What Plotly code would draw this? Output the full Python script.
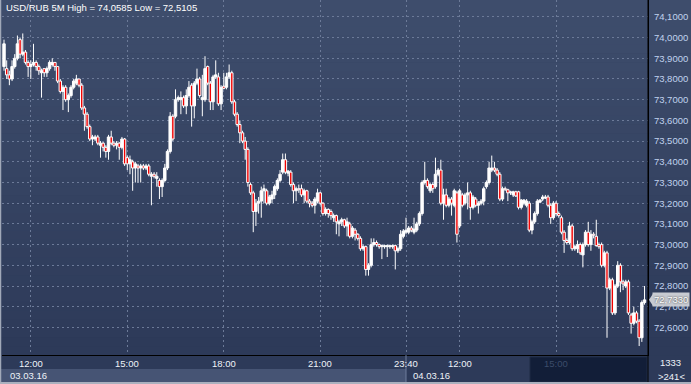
import plotly.graph_objects as go

# ---------------- data ----------------
opens = [73.86, 73.85, 73.82, 73.80, 73.86, 73.90, 73.99, 73.92, 73.93, 73.88,
         73.86, 73.87, 73.88, 73.86, 73.83, 73.85, 73.83, 73.85, 73.87, 73.88,
         73.86, 73.79, 73.74, 73.76, 73.70, 73.72, 73.76, 73.78, 73.80, 73.77,
         73.66, 73.63, 73.57, 73.51, 73.51, 73.52, 73.48, 73.49, 73.47, 73.45,
         73.52, 73.49, 73.48, 73.49, 73.47, 73.51, 73.42, 73.39, 73.40, 73.37,
         73.38, 73.37, 73.38, 73.37, 73.38, 73.33, 73.34, 73.32, 73.31, 73.28,
         73.31, 73.37, 73.45, 73.62, 73.62, 73.70, 73.70, 73.71, 73.67, 73.72,
         73.77, 73.67, 73.78, 73.80, 73.70, 73.70, 73.86, 73.78, 73.69, 73.81,
         73.81, 73.68, 73.765, 73.76, 73.81, 73.83, 73.69, 73.63, 73.58, 73.54,
         73.50, 73.46, 73.29, 73.25, 73.16, 73.20, 73.21, 73.26, 73.26, 73.20,
         73.22, 73.24, 73.27, 73.31, 73.35, 73.41, 73.345, 73.35, 73.29, 73.26,
         73.27, 73.27, 73.24, 73.26, 73.21, 73.20, 73.19, 73.21, 73.25, 73.20,
         73.15, 73.17, 73.16, 73.13, 73.14, 73.10, 73.11, 73.12, 73.09, 73.10,
         73.04, 73.07, 73.05, 73.03, 72.98, 72.99, 72.88, 72.90, 73.00, 73.01,
         73.00, 72.99, 72.99, 72.99, 72.99, 72.99, 72.995, 72.97, 72.98, 73.04,
         73.06, 73.06, 73.08, 73.06, 73.07, 73.10, 73.15, 73.30, 73.31, 73.26,
         73.29, 73.28, 73.34, 73.36, 73.20, 73.24, 73.19, 73.22, 73.19, 73.25,
         73.09, 73.24, 73.20, 73.24, 73.25, 73.18, 73.22, 73.19, 73.20, 73.21,
         73.28, 73.30, 73.36, 73.37, 73.36, 73.34, 73.22, 73.27, 73.265, 73.25,
         73.24, 73.255, 73.255, 73.18, 73.20, 73.19, 73.20, 73.07, 73.11, 73.15,
         73.205, 73.22, 73.225, 73.23, 73.19, 73.13, 73.20, 73.15, 73.13, 73.06,
         73.02, 73.01, 73.09, 72.98, 72.98, 73.00, 72.95, 73.00, 73.06, 73.00,
         73.05, 73.04, 73.00, 73.00, 72.90, 72.96, 72.79, 72.83, 72.67, 72.80,
         72.90, 72.82, 72.80, 72.82, 72.66, 72.62, 72.67, 72.63, 72.55, 72.72]
highs = [73.99, 73.89, 73.84, 73.89, 73.92, 74.01, 74.00, 74.02, 73.94, 73.89,
         73.89, 73.97, 73.89, 73.87, 73.85, 73.85, 73.86, 73.89, 73.90, 73.88,
         73.86, 73.80, 73.77, 73.77, 73.73, 73.77, 73.80, 73.82, 73.80, 73.78,
         73.67, 73.64, 73.58, 73.53, 73.53, 73.53, 73.50, 73.495, 73.48, 73.53,
         73.55, 73.50, 73.50, 73.495, 73.52, 73.515, 73.43, 73.43, 73.41, 73.40,
         73.39, 73.39, 73.39, 73.39, 73.39, 73.35, 73.35, 73.35, 73.32, 73.32,
         73.39, 73.46, 73.64, 73.63, 73.75, 73.72, 73.74, 73.72, 73.75, 73.79,
         73.78, 73.79, 73.85, 73.81, 73.82, 73.91, 73.865, 73.79, 73.82, 73.89,
         73.83, 73.77, 73.83, 73.83, 73.87, 73.84, 73.70, 73.64, 73.60, 73.55,
         73.52, 73.47, 73.30, 73.26, 73.22, 73.23, 73.28, 73.29, 73.27, 73.24,
         73.26, 73.29, 73.32, 73.36, 73.44, 73.44, 73.36, 73.36, 73.30, 73.28,
         73.29, 73.29, 73.27, 73.265, 73.22, 73.21, 73.23, 73.27, 73.255, 73.205,
         73.18, 73.175, 73.17, 73.15, 73.145, 73.12, 73.13, 73.125, 73.13, 73.11,
         73.09, 73.08, 73.055, 73.04, 73.00, 72.995, 72.91, 73.03, 73.03, 73.02,
         73.005, 73.00, 73.00, 73.00, 73.00, 73.00, 73.00, 72.99, 73.07, 73.075,
         73.13, 73.09, 73.09, 73.13, 73.11, 73.16, 73.31, 73.40, 73.32, 73.30,
         73.30, 73.42, 73.37, 73.41, 73.27, 73.27, 73.23, 73.23, 73.27, 73.26,
         73.27, 73.25, 73.25, 73.30, 73.26, 73.24, 73.23, 73.21, 73.22, 73.28,
         73.31, 73.40, 73.43, 73.40, 73.37, 73.35, 73.28, 73.28, 73.27, 73.26,
         73.26, 73.26, 73.26, 73.22, 73.22, 73.22, 73.21, 73.12, 73.16, 73.22,
         73.22, 73.24, 73.24, 73.24, 73.20, 73.21, 73.21, 73.16, 73.14, 73.07,
         73.03, 73.11, 73.10, 73.00, 73.02, 73.01, 73.01, 73.07, 73.11, 73.07,
         73.06, 73.12, 73.01, 73.01, 72.97, 72.97, 72.84, 72.84, 72.81, 72.92,
         72.91, 72.83, 72.83, 72.83, 72.67, 72.70, 72.68, 72.64, 72.73, 72.80]
lows = [73.84, 73.80, 73.77, 73.79, 73.85, 73.89, 73.90, 73.91, 73.87, 73.81,
        73.80, 73.86, 73.84, 73.82, 73.71, 73.81, 73.81, 73.84, 73.86, 73.84,
        73.78, 73.73, 73.65, 73.69, 73.64, 73.71, 73.75, 73.77, 73.76, 73.65,
        73.55, 73.56, 73.50, 73.48, 73.50, 73.48, 73.42, 73.45, 73.42, 73.41,
        73.48, 73.47, 73.46, 73.41, 73.46, 73.38, 73.36, 73.34, 73.26, 73.30,
        73.30, 73.30, 73.36, 73.36, 73.33, 73.19, 73.32, 73.28, 73.22, 73.23,
        73.30, 73.36, 73.44, 73.50, 73.61, 73.69, 73.63, 73.66, 73.63, 73.71,
        73.57, 73.61, 73.77, 73.71, 73.62, 73.69, 73.77, 73.65, 73.65, 73.80,
        73.67, 73.65, 73.75, 73.75, 73.80, 73.68, 73.62, 73.57, 73.49, 73.49,
        73.41, 73.28, 73.24, 73.06, 73.09, 73.15, 73.13, 73.20, 73.19, 73.19,
        73.20, 73.22, 73.26, 73.30, 73.34, 73.34, 73.33, 73.28, 73.20, 73.21,
        73.25, 73.23, 73.20, 73.20, 73.18, 73.18, 73.15, 73.20, 73.19, 73.14,
        73.14, 73.13, 73.12, 73.11, 73.05, 73.04, 73.09, 73.08, 73.04, 73.03,
        73.03, 73.02, 73.02, 72.97, 72.97, 72.85, 72.85, 72.89, 72.99, 72.99,
        72.98, 72.93, 72.98, 72.94, 72.98, 72.98, 72.88, 72.96, 72.97, 73.03,
        73.05, 73.05, 73.06, 73.05, 73.06, 73.09, 73.14, 73.29, 73.27, 73.25,
        73.25, 73.27, 73.33, 73.19, 73.12, 73.18, 73.18, 73.14, 73.18, 73.01,
        73.08, 73.18, 73.19, 73.17, 73.12, 73.17, 73.18, 73.15, 73.19, 73.19,
        73.27, 73.29, 73.35, 73.35, 73.33, 73.21, 73.21, 73.26, 73.21, 73.24,
        73.23, 73.23, 73.17, 73.17, 73.19, 73.18, 73.06, 73.05, 73.10, 73.14,
        73.20, 73.21, 73.22, 73.18, 73.10, 73.12, 73.14, 73.13, 73.05, 72.96,
        73.00, 73.00, 72.97, 72.97, 72.96, 72.95, 72.89, 72.99, 72.99, 72.97,
        73.03, 72.99, 72.98, 72.89, 72.89, 72.55, 72.78, 72.66, 72.66, 72.79,
        72.77, 72.78, 72.79, 72.66, 72.57, 72.61, 72.62, 72.51, 72.53, 72.71]
closes = [73.97, 73.82, 73.80, 73.86, 73.90, 73.97, 73.92, 73.93, 73.88, 73.86,
          73.87, 73.88, 73.86, 73.84, 73.84, 73.83, 73.85, 73.88, 73.88, 73.86,
          73.79, 73.74, 73.76, 73.70, 73.72, 73.76, 73.79, 73.80, 73.77, 73.66,
          73.63, 73.57, 73.51, 73.52, 73.52, 73.49, 73.49, 73.47, 73.45, 73.52,
          73.49, 73.48, 73.49, 73.47, 73.51, 73.39, 73.39, 73.41, 73.37, 73.39,
          73.37, 73.38, 73.37, 73.38, 73.34, 73.34, 73.33, 73.33, 73.28, 73.31,
          73.37, 73.45, 73.62, 73.51, 73.70, 73.71, 73.71, 73.67, 73.72, 73.76,
          73.67, 73.78, 73.80, 73.72, 73.71, 73.85, 73.78, 73.69, 73.81, 73.82,
          73.68, 73.76, 73.755, 73.81, 73.83, 73.69, 73.63, 73.58, 73.54, 73.50,
          73.46, 73.30, 73.25, 73.16, 73.20, 73.21, 73.26, 73.27, 73.20, 73.23,
          73.24, 73.28, 73.31, 73.34, 73.41, 73.35, 73.355, 73.29, 73.26, 73.27,
          73.265, 73.24, 73.26, 73.21, 73.20, 73.19, 73.22, 73.25, 73.20, 73.15,
          73.17, 73.15, 73.14, 73.14, 73.11, 73.11, 73.12, 73.09, 73.11, 73.04,
          73.08, 73.05, 73.03, 72.98, 72.99, 72.88, 72.90, 73.00, 73.01, 73.00,
          72.99, 72.995, 72.995, 72.995, 72.995, 72.995, 72.97, 72.98, 73.05, 73.065,
          73.07, 73.08, 73.07, 73.075, 73.10, 73.15, 73.30, 73.31, 73.28, 73.29,
          73.27, 73.34, 73.36, 73.20, 73.24, 73.19, 73.22, 73.20, 73.26, 73.05,
          73.26, 73.19, 73.24, 73.25, 73.18, 73.23, 73.19, 73.20, 73.21, 73.27,
          73.30, 73.37, 73.37, 73.36, 73.34, 73.22, 73.27, 73.265, 73.25, 73.255,
          73.255, 73.235, 73.18, 73.215, 73.215, 73.21, 73.07, 73.11, 73.15, 73.21,
          73.215, 73.23, 73.23, 73.19, 73.13, 73.20, 73.15, 73.14, 73.06, 73.02,
          73.01, 73.09, 72.98, 72.99, 73.00, 72.96, 73.00, 73.06, 73.00, 73.05,
          73.045, 72.995, 72.99, 72.90, 72.96, 72.79, 72.83, 72.67, 72.80, 72.90,
          72.82, 72.81, 72.82, 72.67, 72.62, 72.67, 72.63, 72.55, 72.72, 72.733]
bars = list(range(len(closes)))

time_tick_bars = [10, 46, 82, 118, 150, 170, 206]
time_tick_labels = ["12:00", "15:00", "18:00", "21:00", "23:40", "12:00", "15:00"]
date_labels = ["03.03.16", "04.03.16"]
day_break_bar = 150
price_ticks = [72.6, 72.7, 72.8, 72.9, 73.0, 73.1, 73.2, 73.3, 73.4, 73.5,
               73.6, 73.7, 73.8, 73.9, 74.0, 74.1]
title_text = "USD/RUB 5M High = 74,0585 Low = 72,5105"
last_price = 72.733
total_bars_text = "1333"
visible_bars_text = "&gt;241&lt;"

# ---------------- layout geometry ----------------
W, H = 691, 384
ML, MR, MT, MB = 2, 43, 0, 29
PW, PH = W - ML - MR, H - MT - MB
X_RANGE = [-0.75, 240.3]
Y_RANGE = [72.4667, 74.1816]
BODY_W = 0.9


def px_x(px):
    return (px - ML) / PW


def px_y(py):
    return (H - MB - py) / PH


def bar_to_paper(b):
    return (b - X_RANGE[0]) / (X_RANGE[1] - X_RANGE[0])


FONT = "Liberation Sans, Arial, sans-serif"

# wick segments (above and below each body, so they never cross the body fill)
wx, wy = [], []
for i, o, h, l, c in zip(bars, opens, highs, lows, closes):
    top, bot = max(o, c), min(o, c)
    if h > top:
        wx += [i, i, None]
        wy += [h, top, None]
    if l < bot:
        wx += [i, i, None]
        wy += [bot, l, None]

up_x, up_base, up_h = [], [], []
dn_x, dn_base, dn_h = [], [], []
for i, o, c in zip(bars, opens, closes):
    if c >= o:
        up_x.append(i); up_base.append(o); up_h.append(c - o)
    else:
        dn_x.append(i); dn_base.append(c); dn_h.append(o - c)

fig = go.Figure()
fig.add_trace(go.Scatter(x=wx, y=wy, mode="lines", line=dict(color="#ffffff", width=1),
                         hoverinfo="skip", showlegend=False))
fig.add_trace(go.Bar(x=up_x, y=up_h, base=up_base, width=BODY_W,
                     marker=dict(color="#ffffff", line=dict(color="#ffffff", width=1)),
                     hoverinfo="skip", showlegend=False))
fig.add_trace(go.Bar(x=dn_x, y=dn_h, base=dn_base, width=BODY_W,
                     marker=dict(color="#f00000", line=dict(color="#ffffff", width=1)),
                     hoverinfo="skip", showlegend=False))

shapes = []
# vertical gradient background behind plot + right axis
top_c = (62, 77, 108)
bot_c = (45, 58, 89)
n = 40
for k in range(n):
    t = k / (n - 1)
    c = tuple(round(top_c[j] + (bot_c[j] - top_c[j]) * t) for j in range(3))
    y0 = k * PH / n
    y1 = (k + 1) * PH / n + 0.5
    shapes.append(dict(type="rect", xref="paper", yref="paper", layer="below",
                       x0=px_x(0), x1=px_x(W), y0=px_y(y1), y1=px_y(y0),
                       fillcolor="rgb(%d,%d,%d)" % c, line=dict(width=0)))

# date band (day 1)
shapes.append(dict(type="rect", xref="paper", yref="paper", layer="above",
                   x0=px_x(0), x1=bar_to_paper(day_break_bar), y0=px_y(382), y1=px_y(369),
                   fillcolor="rgb(70,84,116)", line=dict(width=0)))
# dark highlight box at bottom right
shapes.append(dict(type="rect", xref="paper", yref="paper", layer="above",
                   x0=px_x(530), x1=px_x(647), y0=px_y(382), y1=px_y(357),
                   fillcolor="rgb(18,30,56)", line=dict(color="rgb(30,42,68)", width=1)))
# day separator in the bottom area
shapes.append(dict(type="line", xref="paper", yref="paper", layer="above",
                   x0=bar_to_paper(day_break_bar), x1=bar_to_paper(day_break_bar),
                   y0=px_y(382), y1=px_y(355),
                   line=dict(color="rgb(110,124,156)", width=1)))
# right axis separator extending down
shapes.append(dict(type="line", xref="paper", yref="paper", layer="above",
                   x0=1, x1=1, y0=px_y(384), y1=1,
                   line=dict(color="#000000", width=1)))
# outer frame (left and bottom)
shapes.append(dict(type="line", xref="paper", yref="paper", layer="above",
                   x0=px_x(0.5), x1=px_x(0.5), y0=px_y(384), y1=px_y(0),
                   line=dict(color="rgb(160,168,184)", width=1.5)))
shapes.append(dict(type="line", xref="paper", yref="paper", layer="above",
                   x0=px_x(0), x1=px_x(W), y0=px_y(383), y1=px_y(383),
                   line=dict(color="rgb(170,176,190)", width=2)))
# current price pointer
shapes.append(dict(type="path", xref="paper", yref="y", layer="above",
                   path="M %f %f L %f %f L %f %f Z" % (
                       px_x(649), last_price, px_x(653), last_price + 0.03,
                       px_x(653), last_price - 0.03),
                   fillcolor="rgb(200,203,210)", line=dict(width=0)))

annotations = []
annotations.append(dict(xref="paper", yref="paper", x=px_x(4), y=px_y(8),
                        xanchor="left", yanchor="middle", showarrow=False,
                        text=title_text, font=dict(family=FONT, size=9.5, color="#ffffff")))
for b, lab in zip(time_tick_bars, time_tick_labels):
    dim = b > 196
    annotations.append(dict(xref="paper", yref="paper", x=bar_to_paper(b), y=px_y(363),
                            xanchor="center", yanchor="middle", showarrow=False, text=lab,
                            font=dict(family=FONT, size=9.5,
                                      color="rgb(60,76,106)" if dim else "#eef2f8")))
annotations.append(dict(xref="paper", yref="paper", x=px_x(8), y=px_y(375),
                        xanchor="left", yanchor="middle", showarrow=False,
                        text=date_labels[0], font=dict(family=FONT, size=9.5, color="#eef2f8")))
annotations.append(dict(xref="paper", yref="paper", x=bar_to_paper(day_break_bar) + px_x(5) - px_x(0),
                        y=px_y(375), xanchor="left", yanchor="middle", showarrow=False,
                        text=date_labels[1], font=dict(family=FONT, size=9.5, color="#eef2f8")))
annotations.append(dict(xref="paper", yref="paper", x=px_x(670), y=px_y(362),
                        xanchor="center", yanchor="middle", showarrow=False,
                        text=total_bars_text, font=dict(family=FONT, size=9.5, color="#eef2f8")))
annotations.append(dict(xref="paper", yref="paper", x=px_x(671), y=px_y(376),
                        xanchor="center", yanchor="middle", showarrow=False,
                        text=visible_bars_text, font=dict(family=FONT, size=9.5, color="#eef2f8")))
annotations.append(dict(xref="paper", yref="y", x=px_x(652), y=last_price,
                        xanchor="left", yanchor="middle", showarrow=False,
                        text=("%.4f" % last_price).replace(".", ","),
                        bgcolor="rgb(200,203,210)", borderpad=1,
                        font=dict(family=FONT, size=9.5, color="#ffffff",
                                  shadow="0px 0px 2px #1a1a1a")))

grid_col = "rgb(108,122,152)"
fig.update_layout(
    width=W, height=H,
    margin=dict(l=ML, r=MR, t=MT, b=MB, pad=0),
    paper_bgcolor="rgb(45,58,89)",
    plot_bgcolor="rgba(0,0,0,0)",
    separators=", ",
    showlegend=False,
    barmode="overlay",
    shapes=shapes,
    annotations=annotations,
    xaxis=dict(range=X_RANGE,
               tickmode="array", tickvals=time_tick_bars, showticklabels=False,
               showgrid=True, gridcolor=grid_col, griddash="2px,3px", gridwidth=1,
               zeroline=False, showline=True, linecolor="#000000", linewidth=1,
               ticks="", fixedrange=True),
    yaxis=dict(range=Y_RANGE, side="right", tickmode="array", tickvals=price_ticks,
               tickformat=".4f", showgrid=True, gridcolor=grid_col, griddash="2px,3px",
               gridwidth=1, zeroline=False, showline=True, linecolor="#000000",
               linewidth=1, ticks="", ticklabelstandoff=3,
               tickfont=dict(family=FONT, size=9.5, color="rgb(192,210,238)"),
               fixedrange=True),
)

fig.write_html("out.html")
